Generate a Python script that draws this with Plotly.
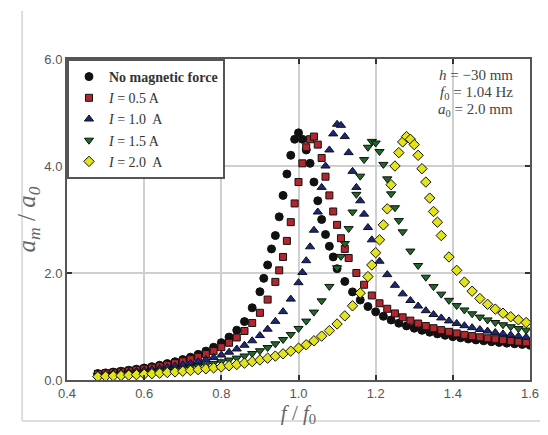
import plotly.graph_objects as go

# ---- data (f/f0 , a_m/a_0) ----
x_none = [0.48,0.50,0.52,0.54,0.56,0.58,0.60,0.62,0.64,0.66,0.68,0.70,0.72,0.74,0.76,0.78,0.80,0.82,0.84,0.86,0.88,0.90,
          0.91,0.92,0.93,0.94,0.95,0.96,0.97,0.98,0.99,1.00,1.01,1.02,1.03,1.04,1.05,1.06,1.07,1.08,1.09,1.10,
          1.12,1.14,1.16,1.18,1.20,1.22,1.24,1.26,1.28,1.30,1.32,1.34,1.36,1.38,1.40,1.42,1.44,1.46,1.48,1.50,1.52,1.54,1.56,1.58,1.60]
y_none = [0.12,0.133,0.148,0.164,0.182,0.202,0.224,0.249,0.276,0.307,0.342,0.382,0.427,0.479,0.540,0.612,0.698,0.802,0.931,1.092,1.35,1.65,
          1.9,2.15,2.45,2.7,3.05,3.45,3.85,4.2,4.5,4.62,4.5,4.3,4.05,3.7,3.35,3.0,2.72,2.5,2.3,2.08,
          1.842,1.647,1.495,1.373,1.274,1.191,1.122,1.062,1.011,0.967,0.928,0.893,0.862,0.835,0.810,0.788,0.767,0.749,0.732,0.716,0.702,0.688,0.676,0.665,0.65]

x_05 = [0.48,0.50,0.52,0.54,0.56,0.58,0.60,0.62,0.64,0.66,0.68,0.70,0.72,0.74,0.76,0.78,0.80,0.82,0.84,0.86,0.88,0.90,0.92,0.94,
        0.95,0.96,0.97,0.98,0.99,1.00,1.01,1.02,1.03,1.04,1.05,1.06,1.07,1.08,1.09,1.10,1.11,1.12,1.13,
        1.15,1.17,1.19,1.21,1.23,1.25,1.27,1.29,1.31,1.33,1.35,1.37,1.39,1.41,1.43,1.45,1.47,1.49,1.51,1.53,1.55,1.57,1.59]
y_05 = [0.114,0.126,0.140,0.155,0.172,0.190,0.210,0.232,0.257,0.284,0.315,0.350,0.389,0.433,0.485,0.544,0.614,0.696,0.795,0.916,1.066,1.256,1.503,1.834,
        2.05,2.3,2.6,2.95,3.3,3.7,4.05,4.35,4.5,4.55,4.4,4.15,3.8,3.45,3.15,2.9,2.65,2.45,2.28,
        2.0,1.78,1.58,1.434,1.331,1.244,1.172,1.110,1.056,1.009,0.968,0.932,0.900,0.871,0.844,0.821,0.799,0.780,0.762,0.745,0.730,0.716,0.703]

x_10 = [0.48,0.50,0.52,0.54,0.56,0.58,0.60,0.62,0.64,0.66,0.68,0.70,0.72,0.74,0.76,0.78,0.80,0.82,0.84,0.86,0.88,0.90,0.92,0.94,0.96,0.98,1.00,
        1.01,1.02,1.03,1.04,1.05,1.06,1.07,1.08,1.09,1.10,1.11,1.12,1.13,1.14,1.15,1.16,1.17,1.18,1.19,
        1.21,1.23,1.25,1.27,1.29,1.31,1.33,1.35,1.37,1.39,1.41,1.43,1.45,1.47,1.49,1.51,1.53,1.55,1.57,1.59]
y_10 = [0.099,0.109,0.121,0.133,0.147,0.161,0.177,0.195,0.214,0.235,0.259,0.285,0.313,0.345,0.381,0.422,0.467,0.520,0.580,0.650,0.733,0.831,0.950,1.096,1.278,1.512,1.819,
        2.01,2.23,2.49,2.8,3.14,3.6,4.0,4.3,4.6,4.78,4.76,4.55,4.25,3.9,3.6,3.35,3.1,2.85,2.62,
        2.22,1.97,1.77,1.61,1.486,1.382,1.296,1.223,1.160,1.105,1.057,1.015,0.978,0.944,0.914,0.887,0.862,0.840,0.819,0.800]

x_15 = [0.48,0.50,0.52,0.54,0.56,0.58,0.60,0.62,0.64,0.66,0.68,0.70,0.72,0.74,0.76,0.78,0.80,0.82,0.84,0.86,0.88,0.90,0.92,0.94,0.96,0.98,1.00,1.02,1.04,1.06,1.08,1.10,
        1.11,1.12,1.13,1.14,1.15,1.16,1.17,1.18,1.19,1.20,1.21,1.22,1.23,1.24,1.25,1.26,1.27,
        1.29,1.31,1.33,1.35,1.37,1.39,1.41,1.43,1.45,1.47,1.49,1.51,1.53,1.55,1.57,1.59]
y_15 = [0.081,0.089,0.098,0.107,0.118,0.129,0.141,0.154,0.168,0.184,0.201,0.219,0.239,0.261,0.284,0.311,0.340,0.373,0.409,0.449,0.495,0.547,0.607,0.676,0.756,0.851,0.964,1.101,1.269,1.480,1.749,2.098,
        2.31,2.55,2.83,3.14,3.47,3.81,4.12,4.35,4.46,4.43,4.27,4.03,3.76,3.48,3.22,2.98,2.77,
        2.41,2.14,1.921,1.746,1.605,1.489,1.391,1.309,1.238,1.176,1.123,1.075,1.033,0.996,0.962,0.932]

x_20 = [0.48,0.50,0.52,0.54,0.56,0.58,0.60,0.62,0.64,0.66,0.68,0.70,0.72,0.74,0.76,0.78,0.80,0.82,0.84,0.86,0.88,0.90,0.92,0.94,0.96,0.98,1.00,1.02,1.04,1.06,1.08,1.10,1.12,1.14,1.16,1.18,
        1.19,1.20,1.21,1.22,1.23,1.24,1.25,1.26,1.27,1.28,1.29,1.30,1.31,1.32,1.33,1.34,1.35,1.36,1.37,
        1.39,1.41,1.43,1.45,1.47,1.49,1.51,1.53,1.55,1.57,1.59]
y_20 = [0.063,0.069,0.076,0.083,0.091,0.099,0.108,0.118,0.128,0.139,0.151,0.164,0.178,0.193,0.209,0.227,0.246,0.267,0.290,0.315,0.343,0.374,0.408,0.447,0.490,0.539,0.595,0.659,0.733,0.820,0.923,1.047,1.199,1.387,1.625,1.933,
        2.15,2.38,2.62,2.9,3.2,3.65,4.0,4.25,4.45,4.55,4.5,4.4,4.2,3.95,3.7,3.4,3.15,2.95,2.7,
        2.3,2.05,1.83,1.66,1.523,1.415,1.325,1.248,1.182,1.124,1.074]

names = ["<b>No magnetic force</b>", "<i>I</i> = 0.5 A", "<i>I</i> = 1.0  A", "<i>I</i> = 1.5 A", "<i>I</i> = 2.0  A"]
xs = [x_none, x_05, x_10, x_15, x_20]
ys = [y_none, y_05, y_10, y_15, y_20]
colors = ["#111111", "#b3262e", "#1c2680", "#1d6a24", "#e3e31c"]
symbols = ["circle", "square", "triangle-up", "triangle-down", "diamond"]
sizes = [8, 7, 8, 8, 8]

xticks = [0.4, 0.6, 0.8, 1.0, 1.2, 1.4, 1.6]
yticks = [0.0, 2.0, 4.0, 6.0]

fig = go.Figure()
for x, y, n, c, s, sz in zip(xs, ys, names, colors, symbols, sizes):
    fig.add_trace(go.Scatter(
        x=x, y=y, mode="markers", name=n,
        marker=dict(symbol=s, size=sz, color=c, line=dict(color="#111111", width=1)),
        cliponaxis=True,
    ))

axis_common = dict(
    showgrid=True, gridcolor="#cfcfcf", gridwidth=1.5,
    showline=True, linecolor="#555555", linewidth=2, mirror="ticks",
    ticks="inside", ticklen=5, tickwidth=1.5, tickcolor="#333333",
    tickfont=dict(family="Liberation Sans", size=13, color="#555555"),
    zeroline=False, automargin=False,
)

fig.update_xaxes(range=[0.4, 1.6], tickvals=xticks, ticktext=[f"{v:.1f}" for v in xticks],
                 title=dict(text="<i>f</i> / <i>f</i><sub>0</sub>",
                            font=dict(family="Liberation Serif", size=21, color="#666666"), standoff=16),
                 **axis_common)
fig.update_yaxes(range=[0, 6], tickvals=yticks, ticktext=[f"{v:.1f}" for v in yticks],
                 title=dict(text="<i>a<sub>m</sub></i> / <i>a<sub>0</sub></i>",
                            font=dict(family="Liberation Serif", size=25, color="#666666"), standoff=2),
                 **axis_common)

# page has an 8px body margin: figure sized so that it fits the 548x435 window
fig.update_layout(
    width=532, height=419,
    margin=dict(l=59, r=10, t=51, b=47),
    paper_bgcolor="white", plot_bgcolor="white",
    showlegend=True,
    legend=dict(x=0.0, y=1.0, xanchor="left", yanchor="top",
                bgcolor="white", bordercolor="#555555", borderwidth=2,
                font=dict(family="Liberation Serif", size=14, color="#333333"),
                tracegroupgap=0, itemsizing="trace", itemwidth=30),
    annotations=[
        dict(xref="paper", yref="paper", x=0.968, y=0.95, xanchor="right", yanchor="middle", showarrow=False,
             text="<i>h</i> = −30 mm", font=dict(family="Liberation Serif", size=15, color="#444444")),
        dict(xref="paper", yref="paper", x=0.968, y=0.895, xanchor="right", yanchor="middle", showarrow=False,
             text="<i>f</i><sub>0</sub> = 1.04 Hz", font=dict(family="Liberation Serif", size=15, color="#444444")),
        dict(xref="paper", yref="paper", x=0.968, y=0.84, xanchor="right", yanchor="middle", showarrow=False,
             text="<i>a</i><sub>0</sub> = 2.0 mm", font=dict(family="Liberation Serif", size=15, color="#444444")),
    ],
    shapes=[
        dict(type="line", xref="paper", yref="paper", x0=-0.097, x1=-0.097, y0=-0.128, y1=1.15,
             line=dict(color="#dddddd", width=2)),
        dict(type="line", xref="paper", yref="paper", x0=-0.097, x1=1.04, y0=-0.128, y1=-0.128,
             line=dict(color="#dddddd", width=2)),
    ],
)

fig.write_html("out.html")
